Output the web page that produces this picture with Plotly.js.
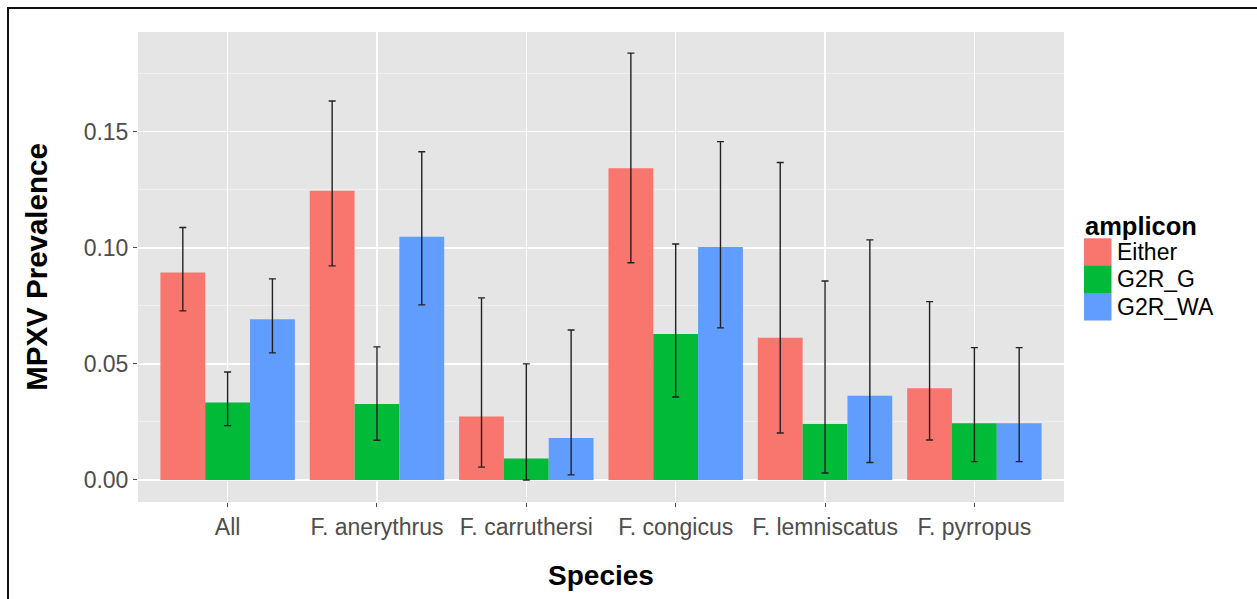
<!DOCTYPE html>
<html>
<head>
<meta charset="utf-8">
<script src="https://cdn.plot.ly/plotly-3.0.1.min.js"></script>
<style>
  html, body { margin: 0; padding: 0; background: #fff; overflow: hidden; }
  #wrap { position: relative; width: 1257px; height: 599px; }
  #chart { position: absolute; left: 0; top: 0; width: 1257px; height: 599px; }
  #frame { position: absolute; left: 7px; top: 7px; width: 3000px; height: 3000px;
           border: 2px solid #111; pointer-events: none; }
</style>
</head>
<body>
<div id="wrap">
  <div id="chart"></div>
  <div id="frame"></div>
</div>
<script>
// ---- data ----
const species = ['All', 'F. anerythrus', 'F. carruthersi', 'F. congicus', 'F. lemniscatus', 'F. pyrropus'];
const seriesNames = ['Either', 'G2R_G', 'G2R_WA'];
const seriesColors = ['#F8766D', '#00BA38', '#619CFF'];

const either   = [0.0893, 0.1245, 0.0273, 0.1342, 0.0612, 0.0395];
const eitherLo = [0.0728, 0.0922, 0.0055, 0.0935, 0.0202, 0.0172];
const eitherHi = [0.1087, 0.1632, 0.0784, 0.1838, 0.1367, 0.0768];

const g2rG   = [0.0333, 0.0327, 0.0092, 0.0629, 0.0241, 0.0244];
const g2rGLo = [0.0234, 0.0171, 0.0000, 0.0357, 0.0030, 0.0079];
const g2rGHi = [0.0465, 0.0573, 0.0500, 0.1016, 0.0857, 0.0570];

const g2rWA   = [0.0692, 0.1047, 0.0181, 0.1003, 0.0363, 0.0244];
const g2rWALo = [0.0547, 0.0754, 0.0022, 0.0655, 0.0075, 0.0079];
const g2rWAHi = [0.0866, 0.1413, 0.0646, 0.1457, 0.1034, 0.0570];

const yTickVals = [0, 0.05, 0.10, 0.15];
const yTickText = ['0.00', '0.05', '0.10', '0.15'];

// ---- build traces ----
const FONT = '"Liberation Sans", Arial, Helvetica, sans-serif';
const vals = [either, g2rG, g2rWA];
const los = [eitherLo, g2rGLo, g2rWALo];
const his = [eitherHi, g2rGHi, g2rWAHi];

const traces = seriesNames.map((name, i) => ({
  type: 'bar',
  name: name,
  x: species,
  y: vals[i],
  marker: { color: seriesColors[i], line: { width: 0 } },
  error_y: {
    type: 'data',
    symmetric: false,
    array: his[i].map((h, k) => h - vals[i][k]),
    arrayminus: vals[i].map((v, k) => v - los[i][k]),
    color: '#222222',
    thickness: 1.4,
    width: 3.5
  },
  showlegend: false,
  hoverinfo: 'x+y+name'
}));

// ---- plot area geometry (px) ----
const W = 1257, H = 599;
const mL = 138, mR = W - 1064, mT = 32, mB = H - 502;
const pw = W - mL - mR, ph = H - mT - mB;
const px = x => (x - mL) / pw;
const py = y => (H - mB - y) / ph;

// ---- manual ggplot-style legend ----
const shapes = [];
const annotations = [];
const keyTop = [238.3, 265.5, 293];
const keyH = 27.5;
seriesNames.forEach((name, i) => {
  shapes.push({
    type: 'rect', xref: 'paper', yref: 'paper',
    x0: px(1084), x1: px(1111.5), y0: py(keyTop[i] + keyH), y1: py(keyTop[i]),
    fillcolor: seriesColors[i], line: { width: 0 }, layer: 'above'
  });
  annotations.push({
    xref: 'paper', yref: 'paper', x: px(1115), y: py(keyTop[i] + keyH / 2),
    xanchor: 'left', yanchor: 'middle', showarrow: false, text: name,
    font: { family: FONT, size: 23, color: '#000' }
  });
});
annotations.push({
  xref: 'paper', yref: 'paper', x: px(1083), y: py(225.5),
  xanchor: 'left', yanchor: 'middle', showarrow: false, text: '<b>amplicon</b>',
  font: { family: FONT, size: 25.5, color: '#000' }
});

const layout = {
  width: W, height: H,
  margin: { l: mL, r: mR, t: mT, b: mB, pad: 0 },
  paper_bgcolor: '#ffffff',
  plot_bgcolor: '#e5e5e5',
  font: { family: FONT, color: '#000' },
  barmode: 'group',
  bargap: 0.1,
  bargroupgap: 0,
  showlegend: false,
  xaxis: {
    type: 'category',
    range: [-0.6, 5.6],
    showgrid: true, gridcolor: '#ffffff', gridwidth: 1.6,
    zeroline: false, showline: false,
    ticks: 'outside', ticklen: 4, tickwidth: 1, tickcolor: '#4d4d4d',
    tickfont: { family: FONT, size: 23, color: '#4d4d4d' },
    title: { text: '<b>Species</b>', font: { family: FONT, size: 28, color: '#000' }, standoff: 26 },
    automargin: false
  },
  yaxis: {
    range: [-0.0095, 0.1929],
    tickvals: yTickVals, ticktext: yTickText,
    showgrid: true, gridcolor: '#ffffff', gridwidth: 1.6,
    minor: { tick0: 0, dtick: 0.025, showgrid: true, gridcolor: '#f2f2f2', gridwidth: 0.8, ticks: '' },
    zeroline: false, showline: false,
    ticks: 'outside', ticklen: 4, tickwidth: 1, tickcolor: '#4d4d4d',
    tickfont: { family: FONT, size: 23, color: '#4d4d4d' },
    title: { text: '<b>MPXV Prevalence</b>', font: { family: FONT, size: 29.5, color: '#000' }, standoff: 27 },
    automargin: false
  },
  shapes: shapes,
  annotations: annotations
};

Plotly.newPlot('chart', traces, layout, { displayModeBar: false, staticPlot: true });
</script>
</body>
</html>
